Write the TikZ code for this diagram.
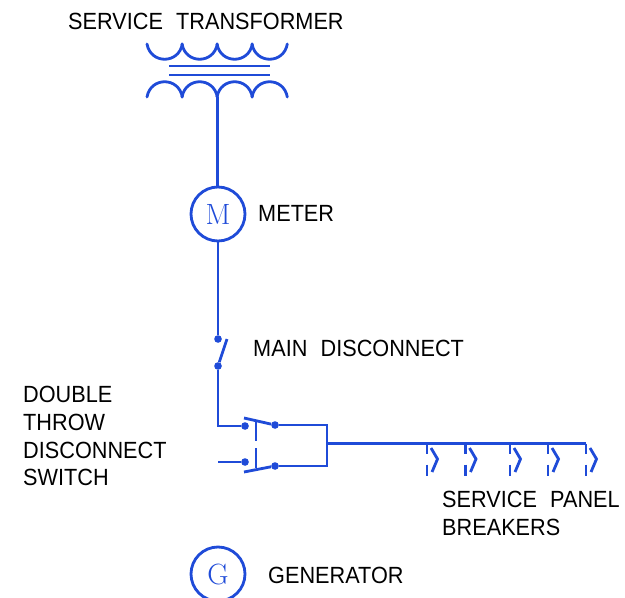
\documentclass[tikz,border=0pt]{standalone}
\usepackage{fontspec}
\setmainfont{Liberation Sans}[WordSpace=2.2, FakeStretch=0.925]
\usepackage{tikz}
\definecolor{wireblue}{HTML}{1F4BD8}
\tikzset{
  wire/.style={draw=wireblue, line width=2.4pt},
  contact/.style={circle, fill=wireblue, inner sep=0pt, minimum size=6.5pt},
  machine/.style={circle, draw=wireblue, line width=2.4pt, minimum size=1.62cm, inner sep=0pt, text=wireblue, font=\fontspec{Latin Modern Roman}\fontsize{25}{25}\selectfont},
  tag/.style={anchor=west, inner sep=0pt, align=left, font=\fontsize{20}{23.8}\selectfont},
}
\begin{document}
\begin{tikzpicture}[x=0.03cm, y=-0.03cm]
\useasboundingbox (0,0) rectangle (625,598);
% transformer
\foreach \x in {147,182,217,252} {
  \draw[wire, line cap=round] (\x,44) to[out=-80, in=-100, looseness=1.5] (\x+35.3,44);
  \draw[wire, line cap=round] (\x,97) to[out=80, in=100, looseness=1.5] (\x+35.3,97);
}
\coordinate (coreAl) at (169,66);
\coordinate (coreAr) at (270,66);
\coordinate (coreBl) at (169,75);
\coordinate (coreBr) at (270,75);
\draw[wire] (coreAl) -- (coreAr);
\draw[wire] (coreBl) -- (coreBr);
\coordinate (xfmrOut) at (217.5,97);
\node[machine] (meter) at (218,214) {M};
\node[machine] (gen) at (218,574) {G};
\draw[wire] (xfmrOut) -- (xfmrOut |- meter.north);
\node[contact] (mainTop) at (218,339) {};
\node[contact] (mainBot) at (218,366) {};
\coordinate (mainBlade) at (227,339);
\draw[wire] (meter) -- (mainTop);
\draw[wire] (mainBot) -- (mainBlade);
% double throw switch
\node[contact] (dtA) at (245,426) {};
\node[contact] (dtB) at (245,462) {};
\node[contact] (dtC) at (275,425) {};
\node[contact] (dtD) at (275,466) {};
\coordinate (dtAin) at (218,426);
\coordinate (dtBin) at (218,462);
\coordinate (bladeA) at (244,418);
\coordinate (bladeB) at (244,472);
\coordinate (busA) at (327,425);
\coordinate (busB) at (327,466);
\coordinate (busMid) at (327,443.5);
\coordinate (busEnd) at (586,443.5);
\draw[wire] (mainBot) -- (dtAin) -- (dtA);
\draw[wire] (dtBin) -- (dtB);
\draw[wire] (bladeA) -- (dtC);
\draw[wire] (bladeB) -- (dtD);
\draw[wire] (dtC) -- (busA) -- (busB) -- (dtD);
\draw[wire] (256,421) -- (256,441);
\draw[wire] (256,448) -- (256,468);
\draw[wire] (busMid) -- (busEnd);
% breakers
\foreach \x in {427,465.5,510,548,586} {
  \draw[wire] (\x,443.5) -- (\x,454);
  \draw[wire] (\x,464.5) -- (\x,476);
  \draw[wire] (\x+4,448) -- (\x+10.5,459) -- (\x+5,472);
}
\node[tag] (lblXfmr) at (68,21) {SERVICE TRANSFORMER};
\node[tag] (lblMeter) at (258,213) {METER};
\node[tag] (lblMain) at (253,348) {MAIN DISCONNECT};
\node[tag] (lblDouble) at (23,436) {DOUBLE\\THROW\\DISCONNECT\\SWITCH};
\node[tag] (lblPanel) at (442,513) {SERVICE PANEL\\BREAKERS};
\node[tag] (lblGen) at (268,575) {GENERATOR};
\end{tikzpicture}
\end{document}
